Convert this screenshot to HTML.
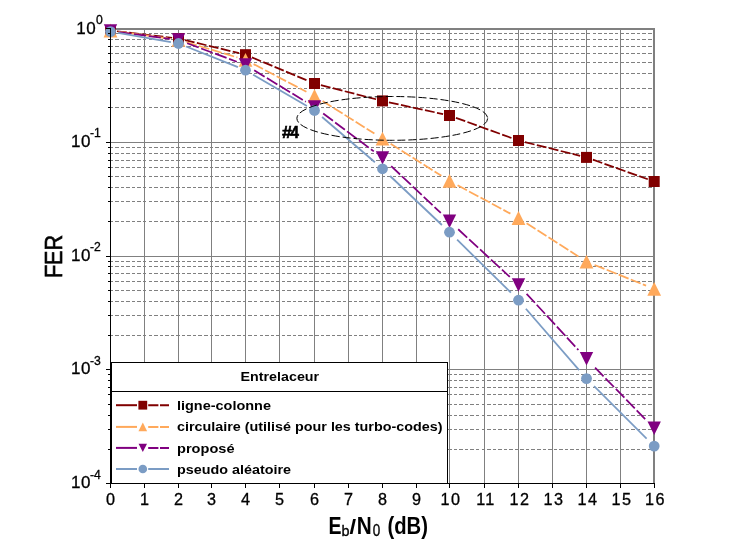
<!DOCTYPE html><html><head><meta charset="utf-8"><style>html,body{margin:0;padding:0;background:#fff;overflow:hidden}svg{display:block;will-change:transform}text{font-family:"Liberation Sans",sans-serif}</style></head><body><svg width="733" height="543" viewBox="0 0 733 543"><rect width="733" height="543" fill="#fff"/><g shape-rendering="crispEdges"><line x1="111" y1="107.5" x2="652" y2="107.5" stroke="#808080" stroke-width="1" stroke-dasharray="3.5 2.05" stroke-dashoffset="1.35"/><line x1="111" y1="88.5" x2="652" y2="88.5" stroke="#808080" stroke-width="1" stroke-dasharray="3.5 2.05" stroke-dashoffset="1.35"/><line x1="111" y1="73.5" x2="652" y2="73.5" stroke="#808080" stroke-width="1" stroke-dasharray="3.5 2.05" stroke-dashoffset="1.35"/><line x1="111" y1="62.5" x2="652" y2="62.5" stroke="#808080" stroke-width="1" stroke-dasharray="3.5 2.05" stroke-dashoffset="1.35"/><line x1="111" y1="53.5" x2="652" y2="53.5" stroke="#808080" stroke-width="1" stroke-dasharray="3.5 2.05" stroke-dashoffset="1.35"/><line x1="111" y1="46.5" x2="652" y2="46.5" stroke="#808080" stroke-width="1" stroke-dasharray="3.5 2.05" stroke-dashoffset="1.35"/><line x1="111" y1="39.5" x2="652" y2="39.5" stroke="#808080" stroke-width="1" stroke-dasharray="3.5 2.05" stroke-dashoffset="1.35"/><line x1="111" y1="33.5" x2="652" y2="33.5" stroke="#808080" stroke-width="1" stroke-dasharray="3.5 2.05" stroke-dashoffset="1.35"/><line x1="111" y1="221.5" x2="652" y2="221.5" stroke="#808080" stroke-width="1" stroke-dasharray="3.5 2.05" stroke-dashoffset="1.35"/><line x1="111" y1="201.5" x2="652" y2="201.5" stroke="#808080" stroke-width="1" stroke-dasharray="3.5 2.05" stroke-dashoffset="1.35"/><line x1="111" y1="187.5" x2="652" y2="187.5" stroke="#808080" stroke-width="1" stroke-dasharray="3.5 2.05" stroke-dashoffset="1.35"/><line x1="111" y1="176.5" x2="652" y2="176.5" stroke="#808080" stroke-width="1" stroke-dasharray="3.5 2.05" stroke-dashoffset="1.35"/><line x1="111" y1="167.5" x2="652" y2="167.5" stroke="#808080" stroke-width="1" stroke-dasharray="3.5 2.05" stroke-dashoffset="1.35"/><line x1="111" y1="160.5" x2="652" y2="160.5" stroke="#808080" stroke-width="1" stroke-dasharray="3.5 2.05" stroke-dashoffset="1.35"/><line x1="111" y1="153.5" x2="652" y2="153.5" stroke="#808080" stroke-width="1" stroke-dasharray="3.5 2.05" stroke-dashoffset="1.35"/><line x1="111" y1="147.5" x2="652" y2="147.5" stroke="#808080" stroke-width="1" stroke-dasharray="3.5 2.05" stroke-dashoffset="1.35"/><line x1="111" y1="335.5" x2="652" y2="335.5" stroke="#808080" stroke-width="1" stroke-dasharray="3.5 2.05" stroke-dashoffset="1.35"/><line x1="111" y1="315.5" x2="652" y2="315.5" stroke="#808080" stroke-width="1" stroke-dasharray="3.5 2.05" stroke-dashoffset="1.35"/><line x1="111" y1="301.5" x2="652" y2="301.5" stroke="#808080" stroke-width="1" stroke-dasharray="3.5 2.05" stroke-dashoffset="1.35"/><line x1="111" y1="290.5" x2="652" y2="290.5" stroke="#808080" stroke-width="1" stroke-dasharray="3.5 2.05" stroke-dashoffset="1.35"/><line x1="111" y1="281.5" x2="652" y2="281.5" stroke="#808080" stroke-width="1" stroke-dasharray="3.5 2.05" stroke-dashoffset="1.35"/><line x1="111" y1="273.5" x2="652" y2="273.5" stroke="#808080" stroke-width="1" stroke-dasharray="3.5 2.05" stroke-dashoffset="1.35"/><line x1="111" y1="266.5" x2="652" y2="266.5" stroke="#808080" stroke-width="1" stroke-dasharray="3.5 2.05" stroke-dashoffset="1.35"/><line x1="111" y1="261.5" x2="652" y2="261.5" stroke="#808080" stroke-width="1" stroke-dasharray="3.5 2.05" stroke-dashoffset="1.35"/><line x1="111" y1="449.5" x2="652" y2="449.5" stroke="#808080" stroke-width="1" stroke-dasharray="3.5 2.05" stroke-dashoffset="1.35"/><line x1="111" y1="429.5" x2="652" y2="429.5" stroke="#808080" stroke-width="1" stroke-dasharray="3.5 2.05" stroke-dashoffset="1.35"/><line x1="111" y1="415.5" x2="652" y2="415.5" stroke="#808080" stroke-width="1" stroke-dasharray="3.5 2.05" stroke-dashoffset="1.35"/><line x1="111" y1="404.5" x2="652" y2="404.5" stroke="#808080" stroke-width="1" stroke-dasharray="3.5 2.05" stroke-dashoffset="1.35"/><line x1="111" y1="394.5" x2="652" y2="394.5" stroke="#808080" stroke-width="1" stroke-dasharray="3.5 2.05" stroke-dashoffset="1.35"/><line x1="111" y1="387.5" x2="652" y2="387.5" stroke="#808080" stroke-width="1" stroke-dasharray="3.5 2.05" stroke-dashoffset="1.35"/><line x1="111" y1="380.5" x2="652" y2="380.5" stroke="#808080" stroke-width="1" stroke-dasharray="3.5 2.05" stroke-dashoffset="1.35"/><line x1="111" y1="374.5" x2="652" y2="374.5" stroke="#808080" stroke-width="1" stroke-dasharray="3.5 2.05" stroke-dashoffset="1.35"/><rect x="111" y="142" width="542" height="1" fill="#808080"/><rect x="111" y="256" width="542" height="1" fill="#808080"/><rect x="111" y="369" width="542" height="1" fill="#808080"/><rect x="144" y="28" width="1" height="455" fill="#808080"/><rect x="178" y="28" width="1" height="455" fill="#808080"/><rect x="211" y="28" width="1" height="455" fill="#808080"/><rect x="245" y="28" width="1" height="455" fill="#808080"/><rect x="279" y="28" width="1" height="455" fill="#808080"/><rect x="314" y="28" width="1" height="455" fill="#808080"/><rect x="348" y="28" width="1" height="455" fill="#808080"/><rect x="382" y="28" width="1" height="455" fill="#808080"/><rect x="416" y="28" width="1" height="455" fill="#808080"/><rect x="449" y="28" width="1" height="455" fill="#808080"/><rect x="484" y="28" width="1" height="455" fill="#808080"/><rect x="518" y="28" width="1" height="455" fill="#808080"/><rect x="552" y="28" width="1" height="455" fill="#808080"/><rect x="586" y="28" width="1" height="455" fill="#808080"/><rect x="620" y="28" width="1" height="455" fill="#808080"/><rect x="110" y="28" width="545" height="2" fill="#808080"/><rect x="653" y="28" width="2" height="455" fill="#808080"/></g><g><line x1="116.90" y1="31.25" x2="172.10" y2="37.75" stroke="#800000" stroke-width="1.75" stroke-dasharray="9.9 2.4"/><line x1="184.90" y1="40.05" x2="239.10" y2="53.15" stroke="#800000" stroke-width="1.75" stroke-dasharray="9.9 2.4"/><line x1="251.90" y1="57.37" x2="308.10" y2="80.83" stroke="#800000" stroke-width="1.75" stroke-dasharray="9.9 2.4"/><line x1="320.90" y1="85.14" x2="376.10" y2="99.26" stroke="#800000" stroke-width="1.75" stroke-dasharray="9.9 2.4"/><line x1="388.90" y1="102.29" x2="443.10" y2="114.11" stroke="#800000" stroke-width="1.75" stroke-dasharray="9.9 2.4"/><line x1="455.90" y1="117.82" x2="512.10" y2="138.18" stroke="#800000" stroke-width="1.75" stroke-dasharray="9.9 2.4"/><line x1="524.90" y1="142.09" x2="580.10" y2="155.81" stroke="#800000" stroke-width="1.75" stroke-dasharray="9.9 2.4"/><line x1="592.90" y1="159.68" x2="647.80" y2="179.22" stroke="#800000" stroke-width="1.75" stroke-dasharray="9.9 2.4"/><rect x="105.00" y="25.00" width="11.00" height="11.00" fill="#800000"/><rect x="173.00" y="33.00" width="11.00" height="11.00" fill="#800000"/><rect x="240.00" y="49.20" width="11.00" height="11.00" fill="#800000"/><rect x="309.00" y="78.00" width="11.00" height="11.00" fill="#800000"/><rect x="377.00" y="95.40" width="11.00" height="11.00" fill="#800000"/><rect x="444.00" y="110.00" width="11.00" height="11.00" fill="#800000"/><rect x="513.00" y="135.00" width="11.00" height="11.00" fill="#800000"/><rect x="581.00" y="151.90" width="11.00" height="11.00" fill="#800000"/><rect x="648.70" y="176.00" width="11.00" height="11.00" fill="#800000"/></g><g><line x1="118.60" y1="31.61" x2="170.40" y2="38.69" stroke="#FFA95B" stroke-width="1.75" stroke-dasharray="10.6 2.4"/><line x1="186.60" y1="42.23" x2="237.40" y2="57.47" stroke="#FFA95B" stroke-width="1.75" stroke-dasharray="10.6 2.4"/><line x1="253.60" y1="64.14" x2="306.40" y2="91.76" stroke="#FFA95B" stroke-width="1.75" stroke-dasharray="10.6 2.4"/><line x1="322.60" y1="101.07" x2="374.40" y2="133.53" stroke="#FFA95B" stroke-width="1.75" stroke-dasharray="10.6 2.4"/><line x1="390.60" y1="143.71" x2="441.40" y2="175.79" stroke="#FFA95B" stroke-width="1.75" stroke-dasharray="10.6 2.4"/><line x1="457.60" y1="185.26" x2="510.40" y2="213.64" stroke="#FFA95B" stroke-width="1.75" stroke-dasharray="10.6 2.4"/><line x1="526.60" y1="223.21" x2="578.40" y2="256.49" stroke="#FFA95B" stroke-width="1.75" stroke-dasharray="10.6 2.4"/><line x1="594.60" y1="264.95" x2="646.10" y2="285.65" stroke="#FFA95B" stroke-width="1.75" stroke-dasharray="10.6 2.4"/><polygon points="110.50,23.60 117.40,37.40 103.60,37.40" fill="#FFA95B"/><polygon points="178.50,32.90 185.40,46.70 171.60,46.70" fill="#FFA95B"/><polygon points="245.50,53.00 252.40,66.80 238.60,66.80" fill="#FFA95B"/><polygon points="314.50,89.10 321.40,102.90 307.60,102.90" fill="#FFA95B"/><polygon points="382.50,131.70 389.40,145.50 375.60,145.50" fill="#FFA95B"/><polygon points="449.50,174.00 456.40,187.80 442.60,187.80" fill="#FFA95B"/><polygon points="518.50,211.10 525.40,224.90 511.60,224.90" fill="#FFA95B"/><polygon points="586.50,254.80 593.40,268.60 579.60,268.60" fill="#FFA95B"/><polygon points="654.20,282.00 661.10,295.80 647.30,295.80" fill="#FFA95B"/></g><g><line x1="119.20" y1="32.15" x2="169.80" y2="38.85" stroke="#800080" stroke-width="1.75" stroke-dasharray="12.2 2.7"/><line x1="187.20" y1="43.25" x2="236.80" y2="61.75" stroke="#800080" stroke-width="1.75" stroke-dasharray="12.2 2.7"/><line x1="254.20" y1="70.30" x2="305.80" y2="101.70" stroke="#800080" stroke-width="1.75" stroke-dasharray="12.2 2.7"/><line x1="323.20" y1="113.51" x2="373.80" y2="151.39" stroke="#800080" stroke-width="1.75" stroke-dasharray="12.2 2.7"/><line x1="391.20" y1="166.12" x2="440.80" y2="212.98" stroke="#800080" stroke-width="1.75" stroke-dasharray="12.2 2.7"/><line x1="458.20" y1="229.24" x2="509.80" y2="276.96" stroke="#800080" stroke-width="1.75" stroke-dasharray="12.2 2.7"/><line x1="526.61" y1="293.80" x2="578.39" y2="350.00" stroke="#800080" stroke-width="1.75" stroke-dasharray="12.2 2.7"/><line x1="595.07" y1="367.60" x2="645.63" y2="419.50" stroke="#800080" stroke-width="1.75" stroke-dasharray="12.2 2.7"/><polygon points="103.80,24.30 117.20,24.30 110.50,37.70" fill="#800080"/><polygon points="171.80,33.30 185.20,33.30 178.50,46.70" fill="#800080"/><polygon points="238.80,58.30 252.20,58.30 245.50,71.70" fill="#800080"/><polygon points="307.80,100.30 321.20,100.30 314.50,113.70" fill="#800080"/><polygon points="375.80,151.20 389.20,151.20 382.50,164.60" fill="#800080"/><polygon points="442.80,214.50 456.20,214.50 449.50,227.90" fill="#800080"/><polygon points="511.80,278.30 525.20,278.30 518.50,291.70" fill="#800080"/><polygon points="579.80,352.10 593.20,352.10 586.50,365.50" fill="#800080"/><polygon points="647.50,421.60 660.90,421.60 654.20,435.00" fill="#800080"/></g><g><line x1="118.10" y1="32.93" x2="170.90" y2="42.17" stroke="#7B9CC4" stroke-width="1.75"/><line x1="186.10" y1="46.53" x2="237.90" y2="67.17" stroke="#7B9CC4" stroke-width="1.75"/><line x1="253.10" y1="74.64" x2="306.90" y2="106.06" stroke="#7B9CC4" stroke-width="1.75"/><line x1="322.10" y1="117.02" x2="374.90" y2="162.28" stroke="#7B9CC4" stroke-width="1.75"/><line x1="390.10" y1="175.99" x2="441.90" y2="225.01" stroke="#7B9CC4" stroke-width="1.75"/><line x1="457.10" y1="239.69" x2="510.90" y2="292.71" stroke="#7B9CC4" stroke-width="1.75"/><line x1="525.87" y1="308.70" x2="579.13" y2="370.10" stroke="#7B9CC4" stroke-width="1.75"/><line x1="594.10" y1="386.18" x2="646.60" y2="438.52" stroke="#7B9CC4" stroke-width="1.75"/><circle cx="110.50" cy="31.60" r="5.40" fill="#7B9CC4"/><circle cx="178.50" cy="43.50" r="5.40" fill="#7B9CC4"/><circle cx="245.50" cy="70.20" r="5.40" fill="#7B9CC4"/><circle cx="314.50" cy="110.50" r="5.40" fill="#7B9CC4"/><circle cx="382.50" cy="168.80" r="5.40" fill="#7B9CC4"/><circle cx="449.50" cy="232.20" r="5.40" fill="#7B9CC4"/><circle cx="518.50" cy="300.20" r="5.40" fill="#7B9CC4"/><circle cx="586.50" cy="378.60" r="5.40" fill="#7B9CC4"/><circle cx="654.20" cy="446.10" r="5.40" fill="#7B9CC4"/></g><g shape-rendering="crispEdges"><rect x="110" y="28" width="1" height="456" fill="#000"/><rect x="106" y="483" width="549" height="1" fill="#000"/><rect x="106" y="28" width="4" height="1" fill="#000"/><rect x="106" y="142" width="4" height="1" fill="#000"/><rect x="106" y="256" width="4" height="1" fill="#000"/><rect x="106" y="369" width="4" height="1" fill="#000"/><rect x="106" y="483" width="4" height="1" fill="#000"/><rect x="108" y="107" width="2" height="1" fill="#000"/><rect x="108" y="88" width="2" height="1" fill="#000"/><rect x="108" y="73" width="2" height="1" fill="#000"/><rect x="108" y="62" width="2" height="1" fill="#000"/><rect x="108" y="53" width="2" height="1" fill="#000"/><rect x="108" y="46" width="2" height="1" fill="#000"/><rect x="108" y="39" width="2" height="1" fill="#000"/><rect x="108" y="33" width="2" height="1" fill="#000"/><rect x="108" y="221" width="2" height="1" fill="#000"/><rect x="108" y="201" width="2" height="1" fill="#000"/><rect x="108" y="187" width="2" height="1" fill="#000"/><rect x="108" y="176" width="2" height="1" fill="#000"/><rect x="108" y="167" width="2" height="1" fill="#000"/><rect x="108" y="160" width="2" height="1" fill="#000"/><rect x="108" y="153" width="2" height="1" fill="#000"/><rect x="108" y="147" width="2" height="1" fill="#000"/><rect x="108" y="335" width="2" height="1" fill="#000"/><rect x="108" y="315" width="2" height="1" fill="#000"/><rect x="108" y="301" width="2" height="1" fill="#000"/><rect x="108" y="290" width="2" height="1" fill="#000"/><rect x="108" y="281" width="2" height="1" fill="#000"/><rect x="108" y="273" width="2" height="1" fill="#000"/><rect x="108" y="266" width="2" height="1" fill="#000"/><rect x="108" y="261" width="2" height="1" fill="#000"/><rect x="108" y="449" width="2" height="1" fill="#000"/><rect x="108" y="429" width="2" height="1" fill="#000"/><rect x="108" y="415" width="2" height="1" fill="#000"/><rect x="108" y="404" width="2" height="1" fill="#000"/><rect x="108" y="394" width="2" height="1" fill="#000"/><rect x="108" y="387" width="2" height="1" fill="#000"/><rect x="108" y="380" width="2" height="1" fill="#000"/><rect x="108" y="374" width="2" height="1" fill="#000"/><rect x="110" y="484" width="1" height="4" fill="#000"/><rect x="144" y="484" width="1" height="4" fill="#000"/><rect x="178" y="484" width="1" height="4" fill="#000"/><rect x="211" y="484" width="1" height="4" fill="#000"/><rect x="245" y="484" width="1" height="4" fill="#000"/><rect x="279" y="484" width="1" height="4" fill="#000"/><rect x="314" y="484" width="1" height="4" fill="#000"/><rect x="348" y="484" width="1" height="4" fill="#000"/><rect x="382" y="484" width="1" height="4" fill="#000"/><rect x="416" y="484" width="1" height="4" fill="#000"/><rect x="449" y="484" width="1" height="4" fill="#000"/><rect x="484" y="484" width="1" height="4" fill="#000"/><rect x="518" y="484" width="1" height="4" fill="#000"/><rect x="552" y="484" width="1" height="4" fill="#000"/><rect x="586" y="484" width="1" height="4" fill="#000"/><rect x="620" y="484" width="1" height="4" fill="#000"/><rect x="654" y="484" width="1" height="4" fill="#000"/></g><ellipse cx="392.3" cy="118.4" rx="95.4" ry="21.9" fill="none" stroke="#000" stroke-width="1" stroke-dasharray="8 3"/><g font-weight="bold" stroke="#000" stroke-width="0.6"><text x="281.9" y="137.6" font-size="16" textLength="9.9" lengthAdjust="spacingAndGlyphs">#</text><text x="290.4" y="137.6" font-size="16" textLength="8.4" lengthAdjust="spacingAndGlyphs">4</text></g><g><rect x="111.5" y="362.5" width="336" height="121" fill="#fff" stroke="#000" stroke-width="1" shape-rendering="crispEdges"/><rect x="111" y="391" width="337" height="1" fill="#000" shape-rendering="crispEdges"/><text x="240.6" y="380.7" font-size="13.5" font-weight="bold" textLength="78.5" lengthAdjust="spacingAndGlyphs">Entrelaceur</text><line x1="116" y1="405.2" x2="137" y2="405.2" stroke="#800000" stroke-width="2"/><line x1="148.2" y1="405.2" x2="169" y2="405.2" stroke="#800000" stroke-width="2" stroke-dasharray="10.2 1.6"/><rect x="138.40" y="400.80" width="8.80" height="8.80" fill="#800000"/><text x="177" y="409.8" font-size="13.5" font-weight="bold" textLength="94" lengthAdjust="spacingAndGlyphs">ligne-colonne</text><line x1="116" y1="426.9" x2="137" y2="426.9" stroke="#FFA95B" stroke-width="2"/><line x1="148.2" y1="426.9" x2="169" y2="426.9" stroke="#FFA95B" stroke-width="2" stroke-dasharray="10.2 1.6"/><polygon points="142.80,422.55 147.15,431.25 138.45,431.25" fill="#FFA95B"/><text x="177" y="431.2" font-size="13.5" font-weight="bold" textLength="265.5" lengthAdjust="spacingAndGlyphs">circulaire (utilisé pour les turbo-codes)</text><line x1="116" y1="447.9" x2="137" y2="447.9" stroke="#800080" stroke-width="2"/><line x1="148.2" y1="447.9" x2="169" y2="447.9" stroke="#800080" stroke-width="2" stroke-dasharray="10.2 1.6"/><polygon points="138.58,443.68 147.02,443.68 142.80,452.12" fill="#800080"/><text x="177" y="452.7" font-size="13.5" font-weight="bold" textLength="57.5" lengthAdjust="spacingAndGlyphs">proposé</text><line x1="116" y1="469.0" x2="137" y2="469.0" stroke="#7B9CC4" stroke-width="2"/><line x1="148.2" y1="469.0" x2="169" y2="469.0" stroke="#7B9CC4" stroke-width="2"/><circle cx="142.80" cy="469.00" r="4.32" fill="#7B9CC4"/><text x="177" y="473.6" font-size="13.5" font-weight="bold" textLength="114" lengthAdjust="spacingAndGlyphs">pseudo aléatoire</text></g><g stroke="#000" stroke-width="0.3"><text x="96.4" y="33.8" font-size="17" text-anchor="end" letter-spacing="0.6">10</text><text x="96.0" y="23.7" font-size="12.2">0</text><text x="91.0" y="146.6" font-size="17" text-anchor="end" letter-spacing="0.6">10</text><text x="89.9" y="136.7" font-size="12.2">-1</text><text x="91.0" y="260.6" font-size="17" text-anchor="end" letter-spacing="0.6">10</text><text x="89.9" y="250.5" font-size="12.2">-2</text><text x="91.0" y="374.4" font-size="17" text-anchor="end" letter-spacing="0.6">10</text><text x="89.9" y="364.5" font-size="12.2">-3</text><text x="91.0" y="488.3" font-size="17" text-anchor="end" letter-spacing="0.6">10</text><text x="89.9" y="478.5" font-size="12.2">-4</text><text x="110.5" y="504.6" font-size="16.2" text-anchor="middle">0</text><text x="144.5" y="504.6" font-size="16.2" text-anchor="middle">1</text><text x="178.5" y="504.6" font-size="16.2" text-anchor="middle">2</text><text x="211.5" y="504.6" font-size="16.2" text-anchor="middle">3</text><text x="245.5" y="504.6" font-size="16.2" text-anchor="middle">4</text><text x="279.5" y="504.6" font-size="16.2" text-anchor="middle">5</text><text x="314.5" y="504.6" font-size="16.2" text-anchor="middle">6</text><text x="348.5" y="504.6" font-size="16.2" text-anchor="middle">7</text><text x="382.5" y="504.6" font-size="16.2" text-anchor="middle">8</text><text x="416.5" y="504.6" font-size="16.2" text-anchor="middle">9</text><text x="450.9" y="504.6" font-size="16.2" text-anchor="middle" letter-spacing="1.3">10</text><text x="485.9" y="504.6" font-size="16.2" text-anchor="middle" letter-spacing="1.3">11</text><text x="519.9" y="504.6" font-size="16.2" text-anchor="middle" letter-spacing="1.3">12</text><text x="553.9" y="504.6" font-size="16.2" text-anchor="middle" letter-spacing="1.3">13</text><text x="587.9" y="504.6" font-size="16.2" text-anchor="middle" letter-spacing="1.3">14</text><text x="621.9" y="504.6" font-size="16.2" text-anchor="middle" letter-spacing="1.3">15</text><text x="655.4" y="504.6" font-size="16.2" text-anchor="middle" letter-spacing="1.3">16</text></g><text transform="translate(62.4,256.5) rotate(-90) scale(0.92,1)" font-size="23.5" text-anchor="middle" stroke="#000" stroke-width="0.7">FER</text><g font-weight="bold" font-size="23"><text x="328.5" y="534" textLength="13" lengthAdjust="spacingAndGlyphs">E</text><text x="349.6" y="534" font-size="20.5" textLength="6.6" lengthAdjust="spacingAndGlyphs">/</text><text x="356.8" y="534" textLength="15" lengthAdjust="spacingAndGlyphs">N</text><text x="387.5" y="534" textLength="40.5" lengthAdjust="spacingAndGlyphs">(dB)</text></g><g font-size="15" stroke="#000" stroke-width="0.35"><text x="341.5" y="535.8" textLength="8" lengthAdjust="spacingAndGlyphs">b</text><text x="372.8" y="535.8" font-size="16" textLength="7.5" lengthAdjust="spacingAndGlyphs">0</text></g></svg></body></html>
